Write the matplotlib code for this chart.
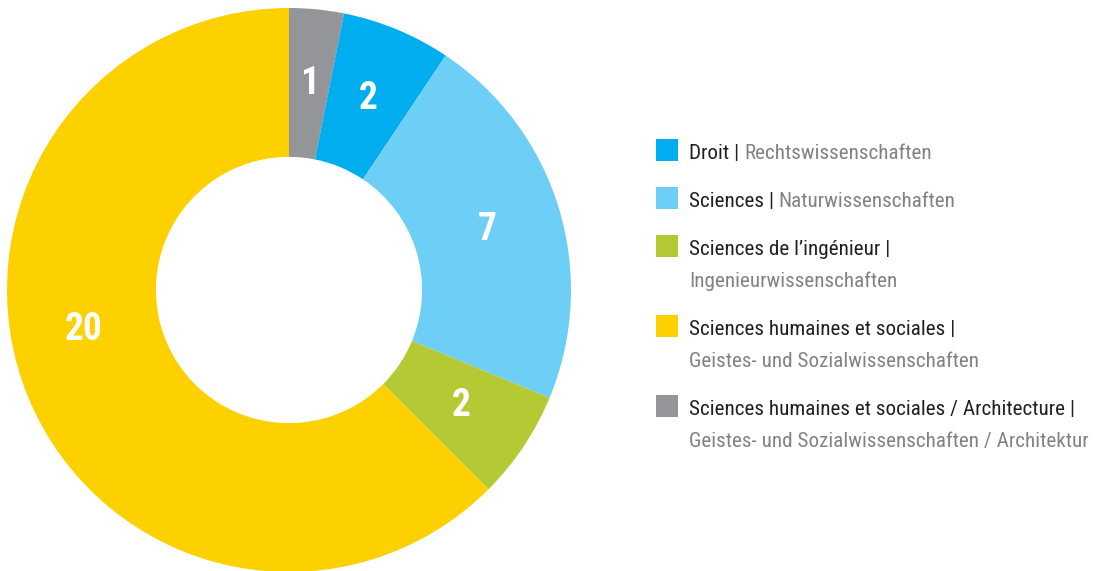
import matplotlib
matplotlib.use("Agg")
import numpy as np
import matplotlib.pyplot as plt
from matplotlib import font_manager
from matplotlib.patches import Rectangle

# ---- data ----
slice_labels = ["Sciences humaines et sociales / Architecture", "Droit", "Sciences",
                "Sciences de l\u2019ingénieur", "Sciences humaines et sociales"]
slice_values = [1, 2, 7, 2, 20]
slice_colors = ["#939598", "#00AEEF", "#6DCFF6", "#B5C935", "#FDD000"]

legend_main = ["Droit | ", "Sciences | ", "Sciences de l\u2019ingénieur |",
               "Sciences humaines et sociales |",
               "Sciences humaines et sociales / Architecture |"]
legend_sub = ["Rechtswissenschaften", "Naturwissenschaften", "Ingenieurwissenschaften",
              "Geistes- und Sozialwissenschaften",
              "Geistes- und Sozialwissenschaften / Architektur"]
legend_colors = ["#00AEEF", "#6DCFF6", "#B5C935", "#FDD000", "#939598"]
legend_inline = [True, True, False, False, False]

# ---- font ----
available = {f.name for f in font_manager.fontManager.ttflist}
family = "DejaVu Sans"
for cand in ["Liberation Sans Narrow", "Roboto Condensed", "DejaVu Sans Condensed",
             "Open Sans Condensed", "Roboto", "Liberation Sans"]:
    if cand in available:
        family = cand
        break
plt.rcParams["font.family"] = [family, "DejaVu Sans"]

W, H = 1095, 571
fig = plt.figure(figsize=(W / 100, H / 100), dpi=100)

# pie axes: centre (289, 290) px, radius 282 px
cx, cy, R = 289, 290, 282
ax = fig.add_axes([(cx - R) / W, (H - cy - R) / H, 2 * R / W, 2 * R / H])
total = sum(slice_values)
wedges, texts, autotexts = ax.pie(
    slice_values, colors=slice_colors, startangle=90, counterclock=False,
    radius=1.0, wedgeprops=dict(width=0.528, edgecolor="none"),
    autopct=lambda p: f"{round(p * total / 100)}", pctdistance=0.736,
    textprops=dict(color="white", fontsize=27, fontweight="bold"))
# the large slice's label sits a bit higher than the wedge middle
ang = np.deg2rad(259)
autotexts[4].set_position((0.74 * np.sin(ang), 0.74 * np.cos(ang)))
ax.set_xlim(-1, 1)
ax.set_ylim(-1, 1)
ax.set_aspect("equal")
ax.axis("off")

# overlay axes in pixel coordinates
ov = fig.add_axes([0, 0, 1, 1])
ov.set_xlim(0, W)
ov.set_ylim(H, 0)
ov.axis("off")

dark = "#231F20"
grey = "#808285"
fs = 15.2
baselines = [159, 207, 255, 335, 415]
for i in range(len(legend_main)):
    b = baselines[i]
    ov.add_patch(Rectangle((656, b - 20), 22, 21.5, facecolor=legend_colors[i],
                           edgecolor="none"))
    t1 = ov.text(689, b, legend_main[i], color=dark, fontsize=fs, va="baseline", ha="left")
    if legend_inline[i]:
        ov.annotate(legend_sub[i], xy=(1, 0), xycoords=t1, va="bottom", ha="left",
                    color=grey, fontsize=fs)
    else:
        ov.text(689, b + 32, legend_sub[i], color=grey, fontsize=fs,
                va="baseline", ha="left")

fig.savefig("out.png", dpi=100, facecolor="white")
